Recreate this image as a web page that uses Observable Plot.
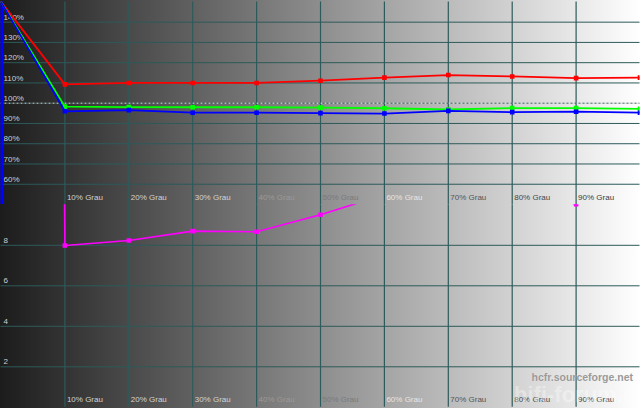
<!DOCTYPE html>
<html>
<head>
<meta charset="utf-8">
<script src="https://cdn.jsdelivr.net/npm/d3@7"></script>
<script src="https://cdn.jsdelivr.net/npm/@observablehq/plot@0.6"></script>
<style>
  html, body { margin: 0; padding: 0; background: #ffffff; }
  #chart {
    position: relative; width: 640px; height: 408px; overflow: hidden;
    background: linear-gradient(to right, #1c1c1c 0%, #ffffff 100%);
    font-family: "Liberation Sans", Arial, sans-serif;
  }
  #chart svg { position: absolute; left: 0; overflow: hidden; }
  .wm1 {
    position: absolute; right: 7px; top: 371px; line-height: 13px;
    font: bold 10.5px "Liberation Sans", Arial, sans-serif; color: #9a9a9a;
    text-shadow: 0 0 1px rgba(255,255,255,0.6);
  }
  .wm2 {
    position: absolute; left: 514px; top: 382px; line-height: 24px;
    font: bold 22px "Liberation Sans", Arial, sans-serif; color: rgba(255,255,255,0.35);
    white-space: nowrap;
  }
</style>
</head>
<body>
<div id="chart"></div>
<script>
// ---- data ----
const levels = [0, 10, 20, 30, 40, 50, 60, 70, 80, 90, 100];
const redPct   = [150, 109.3, 110.0, 110.0, 110.0, 111.1, 112.6, 113.9, 113.2, 112.4, 112.6];
const greenPct = [150, 98.3, 98.1, 98.0, 98.0, 97.8, 97.5, 96.9, 97.6, 97.6, 97.2];
const bluePct  = [150, 96.0, 96.6, 95.3, 95.3, 95.1, 94.9, 96.2, 95.6, 95.8, 95.3];

const deLevels = [0, 10, 20, 30, 40, 50, 60, 70, 80, 90];
const deltaE   = [400, 7.99, 8.24, 8.70, 8.67, 9.51, 10.5, 11.0, 10.8, 10.03];

const pctTicks  = [140, 130, 120, 110, 100, 90, 80, 70, 60];
const deTicks   = [8, 6, 4, 2];
const grauTicks = [10, 20, 30, 40, 50, 60, 70, 80, 90];

// ---- styles ----
const gridColor = "#2d5a5a";
function grauColor(p) {
  if (p <= 30) return "#d2d2d2";
  if (p === 40) return "#9a9a9a";
  if (p === 50) return "#7a7a7a";
  if (p === 60) return "#e6e6e6";
  if (p === 70) return "#555555";
  if (p === 80) return "#484848";
  return "#3c3c3c";
}
const font = {fontFamily: "Liberation Sans, Arial, sans-serif", fontSize: 8};

const rgbRows = levels.map((l, i) => ({level: l, r: redPct[i], g: greenPct[i], b: bluePct[i]}));
const rgbMarks = rgbRows.filter(d => d.level > 0);
const deRows = deLevels.map((l, i) => ({level: l, de: deltaE[i]}));
const deMarks = deRows.filter(d => d.level > 0);

const topPlot = Plot.plot({
  width: 640, height: 204,
  marginTop: 1.4, marginBottom: 0, marginLeft: 0.5, marginRight: 0.5,
  style: {background: "transparent", overflow: "hidden"},
  x: {domain: [0, 100], axis: null},
  y: {domain: [50, 150], axis: null},
  color: {type: "identity"},
  marks: [
    Plot.ruleY(pctTicks.filter(t => t !== 100), {stroke: gridColor, strokeWidth: 1}),
    Plot.ruleX(grauTicks, {stroke: gridColor, strokeWidth: 1.2}),
    Plot.ruleY([100], {stroke: "#d8d8d8", strokeDasharray: "2,2"}),
    Plot.ruleY([100], {stroke: "#3e6666", strokeDasharray: "2,2", strokeDashoffset: 2}),
    Plot.text(pctTicks, {y: d => d, text: d => d + "%", frameAnchor: "left", dx: 2.5, dy: -5,
      textAnchor: "start", fill: "#cfcfcf", ...font}),
    Plot.text(grauTicks, {x: d => d, text: d => d + "% Grau", frameAnchor: "bottom", dx: 2, dy: -5,
      textAnchor: "start", fill: d => grauColor(d), ...font}),
    Plot.ruleX([0], {stroke: "#0000ff", strokeWidth: 3, dx: 1}),
    Plot.line(rgbRows, {x: "level", y: "r", stroke: "#ff0000", strokeWidth: 1.8, clip: true}),
    Plot.dot(rgbMarks, {x: "level", y: "r", symbol: "square", r: 2.6, fill: "#ff0000", clip: true}),
    Plot.line(rgbRows, {x: "level", y: "g", stroke: "#00ff00", strokeWidth: 1.8, clip: true}),
    Plot.dot(rgbMarks, {x: "level", y: "g", symbol: "square", r: 2.6, fill: "#00ff00", clip: true}),
    Plot.line(rgbRows, {x: "level", y: "b", stroke: "#0000ff", strokeWidth: 1.8, clip: true}),
    Plot.dot(rgbMarks, {x: "level", y: "b", symbol: "square", r: 2.6, fill: "#0000ff", clip: true})
  ]
});
topPlot.style.top = "0px";

const bottomPlot = Plot.plot({
  width: 640, height: 204,
  marginTop: 0.3, marginBottom: 1.2, marginLeft: 0.5, marginRight: 0.5,
  style: {background: "transparent", overflow: "hidden"},
  x: {domain: [0, 100], axis: null},
  y: {domain: [0, 10], axis: null},
  color: {type: "identity"},
  marks: [
    Plot.ruleY(deTicks, {stroke: gridColor, strokeWidth: 1}),
    Plot.ruleX(grauTicks, {stroke: gridColor, strokeWidth: 1.2}),
    Plot.text(deTicks, {y: d => d, text: d => String(d), frameAnchor: "left", dx: 2.5, dy: -5,
      textAnchor: "start", fill: "#cfcfcf", ...font}),
    Plot.text(grauTicks, {x: d => d, text: d => d + "% Grau", frameAnchor: "bottom", dx: 2, dy: -5,
      textAnchor: "start", fill: d => grauColor(d), ...font}),
    Plot.line(deRows, {x: "level", y: "de", stroke: "#ff00ff", strokeWidth: 1.6, clip: true}),
    Plot.dot(deMarks, {x: "level", y: "de", symbol: "square", r: 2.6, fill: "#ff00ff", clip: true})
  ]
});
bottomPlot.style.top = "204px";

const chart = document.getElementById("chart");
chart.appendChild(topPlot);
chart.appendChild(bottomPlot);
const wm2 = document.createElement("div");
wm2.className = "wm2"; wm2.textContent = "hifi-forum.de";
chart.appendChild(wm2);
const wm1 = document.createElement("div");
wm1.className = "wm1"; wm1.textContent = "hcfr.sourceforge.net";
chart.appendChild(wm1);
</script>
</body>
</html>
